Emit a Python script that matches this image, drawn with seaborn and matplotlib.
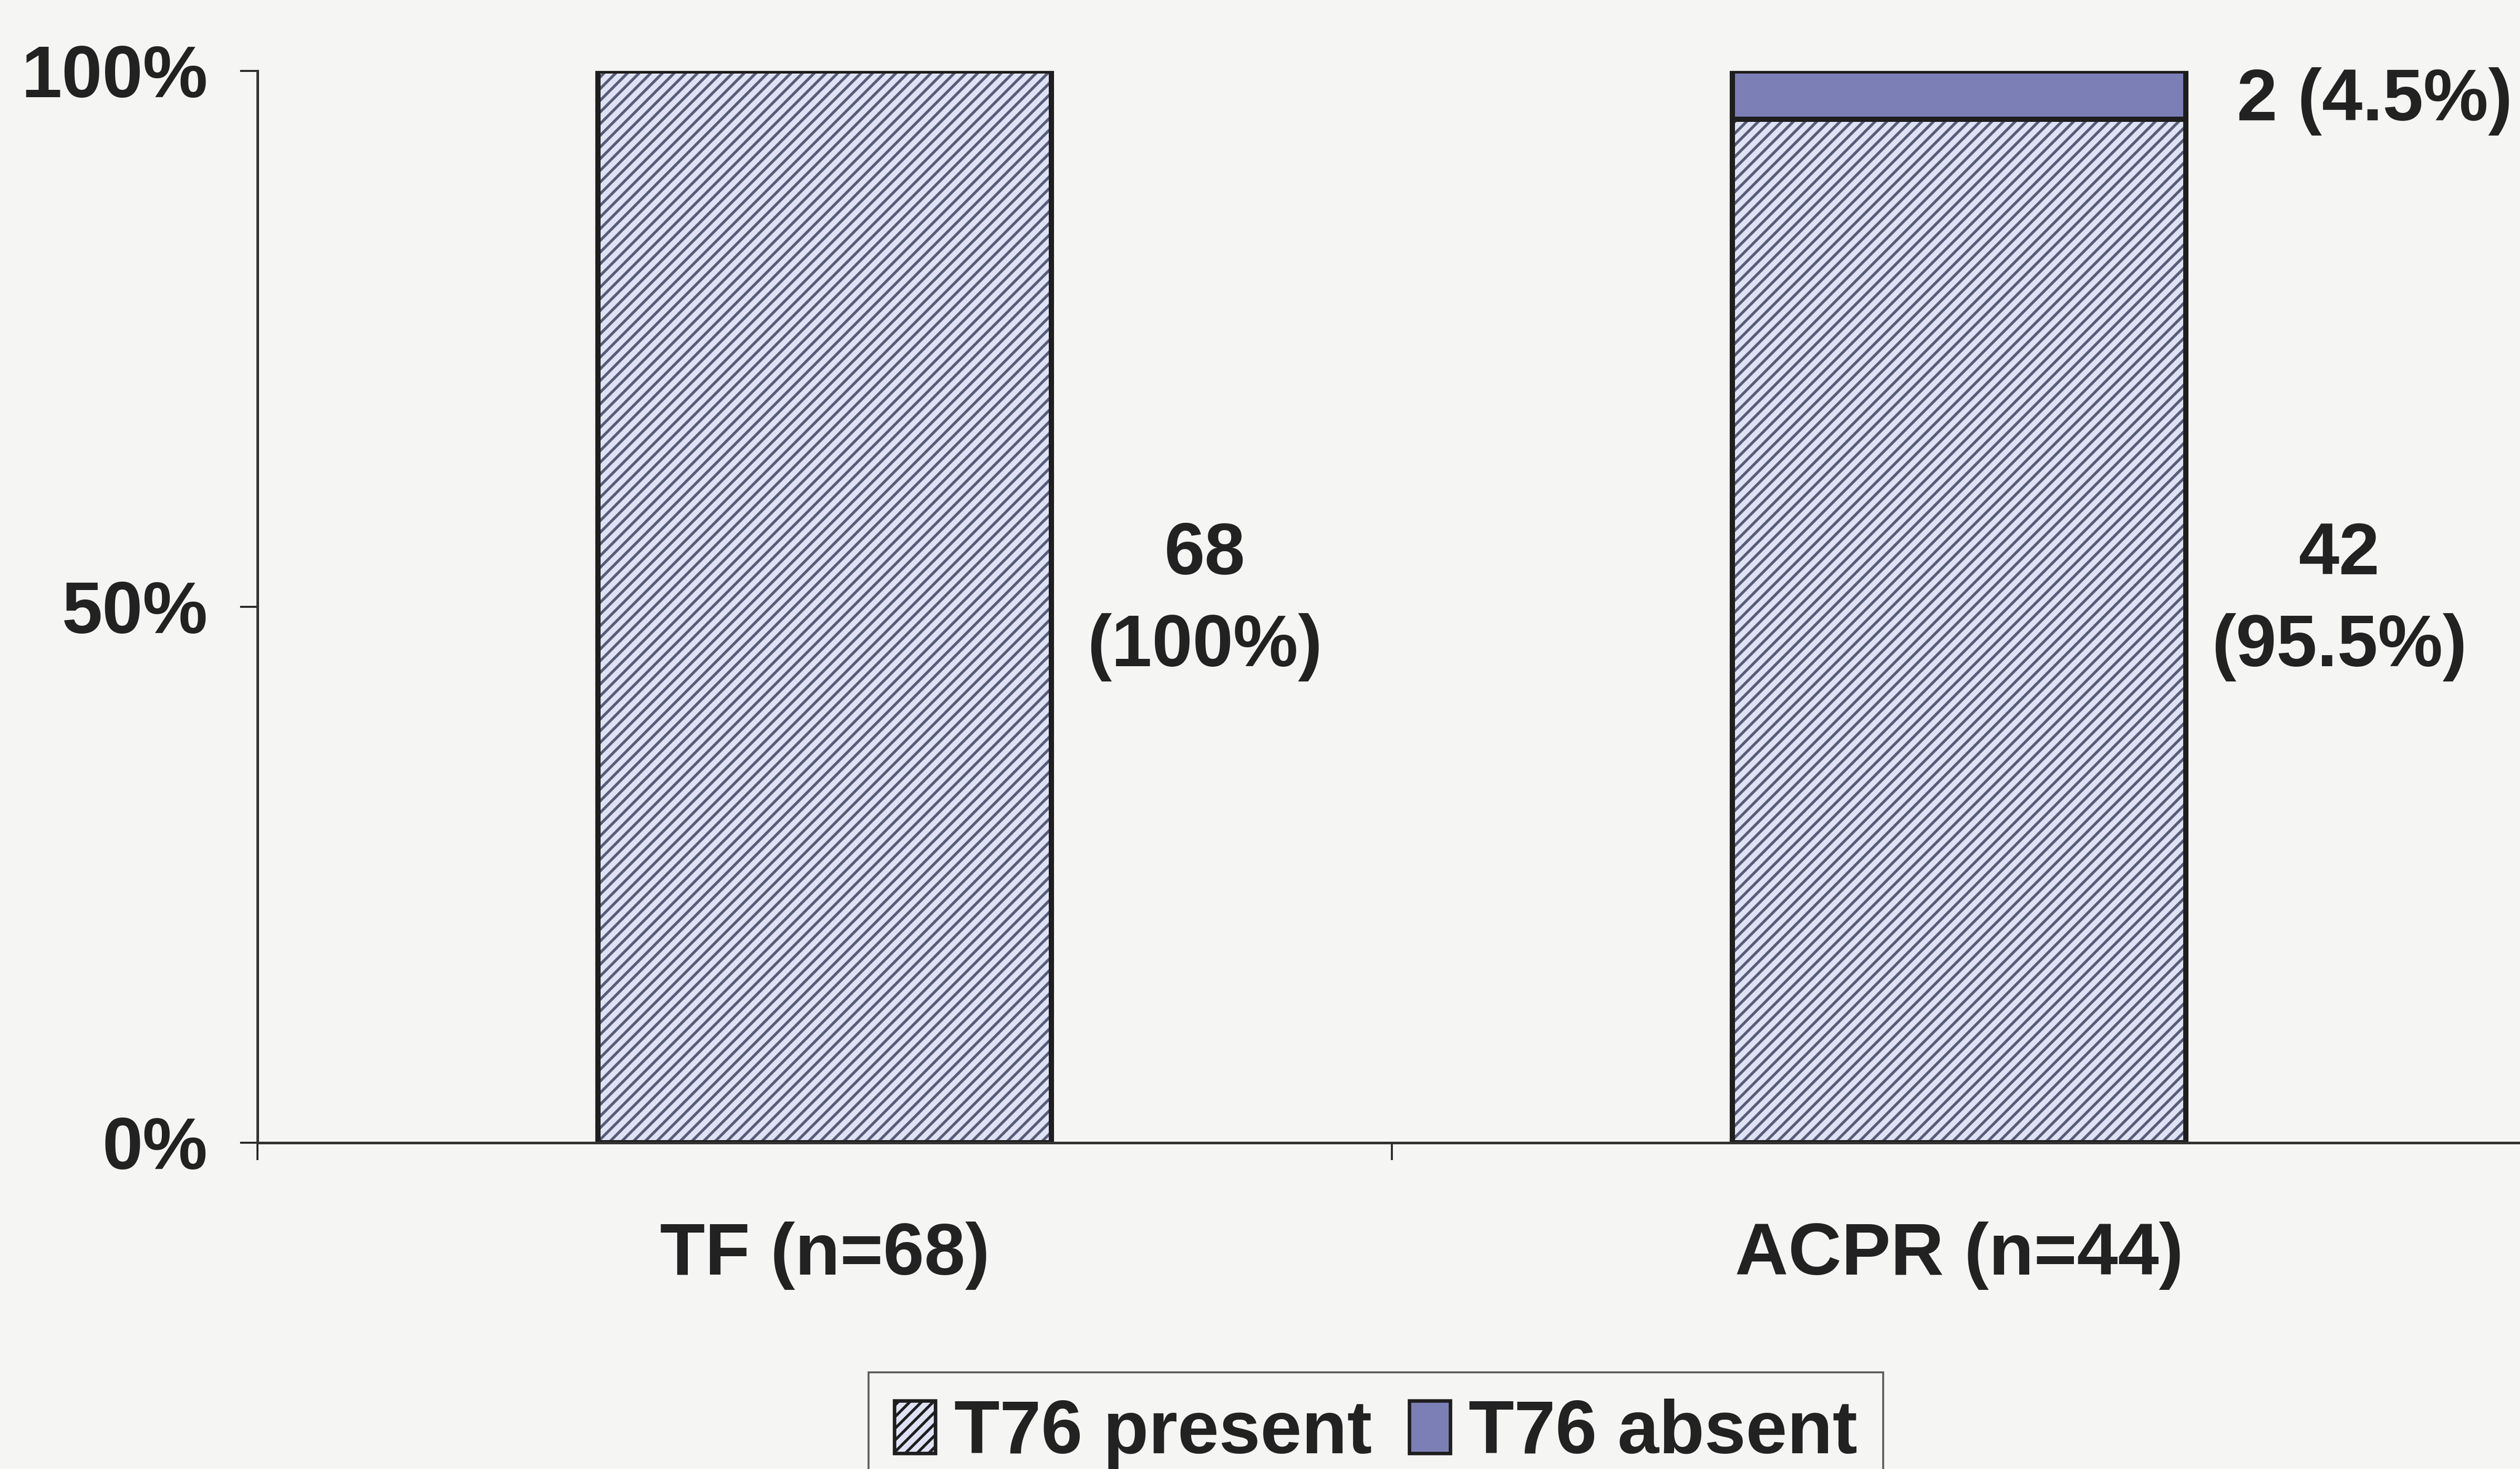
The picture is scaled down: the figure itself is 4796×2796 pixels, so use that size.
import matplotlib
matplotlib.use("Agg")
import matplotlib.pyplot as plt
from matplotlib.patches import Patch
import seaborn as sns

# Data
groups = ["TF (n=68)", "ACPR (n=44)"]
present_n = [68, 42]
absent_n = [0, 2]
present_pct = [100.0, 95.5]
absent_pct = [0.0, 4.5]
y_ticks = [0, 50, 100]
y_tick_labels = ["0%", "50%", "100%"]
legend_labels = ["T76 present", "T76 absent"]

# Styles
bg = "#f5f5f3"
hatch_bg = "#dfe2f5"
hatch_line = "#575d78"
absent_col = "#7c7fb6"
edge_col = "#1e1e1e"
text_col = "#222222"

sns.set_theme(style="white")
plt.rcParams["font.family"] = ["Liberation Sans", "DejaVu Sans"]
plt.rcParams["font.weight"] = "bold"
plt.rcParams["hatch.linewidth"] = 1.9

fig = plt.figure(figsize=(23.98, 13.98), dpi=200, facecolor=bg)
ax = fig.add_axes([0.1022, 0.2222, 0.9003, 0.7296])
ax.set_facecolor(bg)

total_pct = [p + a for p, a in zip(present_pct, absent_pct)]

# full stack in the "absent" colour, then the "present" part drawn over it
sns.barplot(x=groups, y=total_pct, color=absent_col, saturation=1, width=0.4,
            edgecolor=edge_col, linewidth=3.6, ax=ax, errorbar=None)
sns.barplot(x=groups, y=present_pct, color=hatch_bg, saturation=1, width=0.4,
            edgecolor=hatch_line, linewidth=0, hatch="///", ax=ax, errorbar=None)
sns.barplot(x=groups, y=present_pct, color=edge_col, fill=False, width=0.4,
            linewidth=3.6, ax=ax, errorbar=None)

ax.set_xlim(-0.5, 1.5)
ax.set_ylim(0, 100)
ax.set_xlabel("")
ax.set_ylabel("")

ax.set_yticks(y_ticks)
ax.set_yticklabels(y_tick_labels)
ax.tick_params(axis="y", direction="out", length=12, width=1.3, color=edge_col,
               pad=22, labelsize=50, labelcolor=text_col, left=True)
ax.tick_params(axis="x", which="major", length=0, pad=54, labelsize=50.5,
               labelcolor=text_col)
ax.set_xticks([-0.5, 0.5, 1.5], minor=True)
ax.tick_params(axis="x", which="minor", direction="out", length=12, width=1.3,
               color=edge_col, bottom=True)
for lab in ax.get_xticklabels() + ax.get_yticklabels():
    lab.set_fontweight("bold")

for side in ["top", "right"]:
    ax.spines[side].set_visible(False)
for side in ["left", "bottom"]:
    ax.spines[side].set_color("#333333")
    ax.spines[side].set_linewidth(1.8)

# value labels
for i in range(len(groups)):
    ax.text(i + 0.335, 50.5, f"{present_n[i]}\n({present_pct[i]:g}%)",
            ha="center", va="center", fontsize=50, fontweight="bold",
            color=text_col, linespacing=1.45)
    if absent_n[i] > 0:
        ax.text(i + 0.245, present_pct[i] + absent_pct[i] / 2 - 0.6,
                f"{absent_n[i]} ({absent_pct[i]:g}%)",
                ha="left", va="center", fontsize=50, fontweight="bold",
                color=text_col)

handles = [
    Patch(facecolor=hatch_bg, edgecolor=edge_col, hatch="///", linewidth=2.4),
    Patch(facecolor=absent_col, edgecolor=edge_col, linewidth=2.4),
]
leg = fig.legend(handles, legend_labels, loc="upper center",
                 bbox_to_anchor=(0.546, 1 - 2612 / 2796), ncol=2,
                 fontsize=51, frameon=True, fancybox=False, shadow=False,
                 handlelength=0.55, handleheight=0.7, handletextpad=0.25,
                 columnspacing=0.5, borderpad=0.35, borderaxespad=0)
leg.get_frame().set_edgecolor("#333333")
leg.get_frame().set_linewidth(1.3)
leg.get_frame().set_facecolor(bg)
for t in leg.get_texts():
    t.set_fontweight("bold")
    t.set_color(text_col)

fig.savefig("out.png", dpi=200, facecolor=bg)
